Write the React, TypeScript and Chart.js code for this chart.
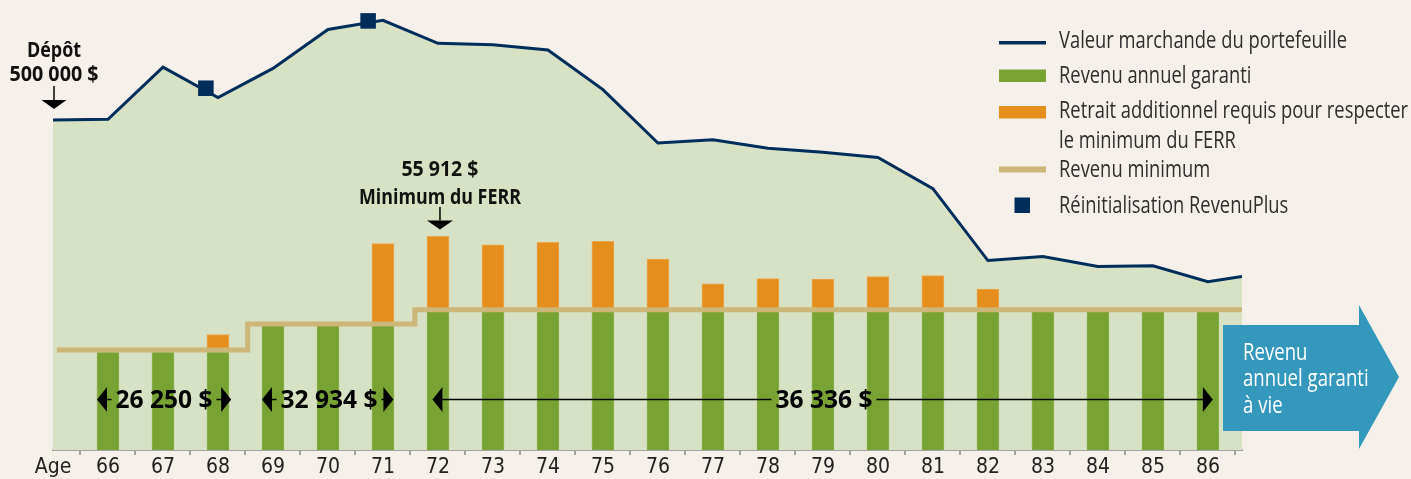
import React, { useEffect, useRef } from 'react';
import { Chart, registerables } from 'chart.js';

Chart.register(...registerables);

const TICK_FONT = '"DejaVu Sans Condensed", "Open Sans", sans-serif';
const TEXT_FONT = '"Open Sans", "Noto Sans", sans-serif';

const BG = '#F5F1EA';
const AREA = '#D7E1C3';
const NAVY = '#002D5A';
const GREEN = '#78A232';
const ORANGE = '#E68E1C';
const TAN = '#CCB678';
const BLUE = '#3398BB';
const AXIS = '#A3A3A3';

// x axis ticks (65 = deposit position, labelled "Age")
const tickAges = [65, 66, 67, 68, 69, 70, 71, 72, 73, 74, 75, 76, 77, 78, 79, 80, 81, 82, 83, 84, 85, 86];
const tickLabels = ['Age', '66', '67', '68', '69', '70', '71', '72', '73', '74', '75', '76', '77', '78', '79', '80', '81', '82', '83', '84', '85', '86'];

// Bars
const barAges = [66, 67, 68, 69, 70, 71, 72, 73, 74, 75, 76, 77, 78, 79, 80, 81, 82, 83, 84, 85, 86];
const guaranteedIncome = [26250, 26250, 26250, 32934, 32934, 32934, 36336, 36336, 36336, 36336, 36336, 36336, 36336, 36336, 36336, 36336, 36336, 36336, 36336, 36336, 36336];
const additionalWithdrawal = [null, null, 4400, null, null, 20300, 18700, 16600, 17200, 17500, 13050, 6950, 8200, 8100, 8700, 9000, 5600, null, null, null, null];

// Portfolio market value
const portfolioAges = [65, 66, 67, 68, 69, 70, 71, 72, 73, 74, 75, 76, 77, 78, 79, 80, 81, 82, 83, 84, 85, 86, 86.62];
const portfolioValues = [500000, 501000, 580000, 534000, 578000, 637000, 651000, 616000, 614000, 606000, 546000, 465000, 470000, 457000, 451000, 443000, 396000, 287000, 293000, 278000, 279000, 255000, 263000];

// Minimum income (step line)
const minIncomeAges = [65.07, 68.54, 68.54, 71.58, 71.58, 86.62];
const minIncomeValues = [26800, 26800, 33300, 33300, 36800, 36800];

// RevenuPlus resets
const resetAges = [67.78, 70.73];
const resetValues = [548000, 650000];

// Annotations
const depositLabel = ['Dépôt', '500 000 $'];
const depositAge = 65;
const ferrLabel = ['55 912 $', 'Minimum du FERR'];
const ferrAge = 72;
const incomeLabels = ['26 250 $', '32 934 $', '36 336 $'];
const incomeFromAges = [65.8, 68.8, 71.9];
const incomeToAges = [68.24, 71.19, 86.09];
const incomeLabelAges = [67, 70, 79];
const arrowText = ['Revenu', 'annuel garanti', 'à vie'];

const legendLabels = [
  ['Valeur marchande du portefeuille'],
  ['Revenu annuel garanti'],
  ['Retrait additionnel requis pour respecter', 'le minimum du FERR'],
  ['Revenu minimum'],
  ['Réinitialisation RevenuPlus'],
];

function fitScale(ctx: any, font: string, str: string, targetWidth: number) {
  ctx.font = font;
  return targetWidth / ctx.measureText(str).width;
}

function drawText(ctx: any, str: string, x: number, y: number, font: string, sx: number, align: string, color: string) {
  ctx.save();
  ctx.font = font;
  ctx.fillStyle = color;
  ctx.textAlign = align;
  ctx.textBaseline = 'alphabetic';
  ctx.translate(x, y);
  ctx.scale(sx, 1);
  ctx.fillText(str, 0, 0);
  ctx.restore();
}

function downArrow(ctx: any, x: number, y0: number, y1: number, tip: number, half: number) {
  ctx.strokeStyle = '#000';
  ctx.lineWidth = 1.5;
  ctx.beginPath();
  ctx.moveTo(x, y0);
  ctx.lineTo(x, y1);
  ctx.stroke();
  ctx.fillStyle = '#000';
  ctx.beginPath();
  ctx.moveTo(x - half, y1);
  ctx.lineTo(x + half, y1);
  ctx.lineTo(x, tip);
  ctx.closePath();
  ctx.fill();
}

const overlay = {
  id: 'overlay',
  beforeDraw(chart: any) {
    const ctx = chart.ctx;
    ctx.save();
    ctx.fillStyle = BG;
    ctx.fillRect(0, 0, chart.width, chart.height);
    ctx.restore();
  },
  afterDraw(chart: any) {
    const ctx = chart.ctx;
    const xs = chart.scales.x;
    const ys = chart.scales.y;
    ctx.save();

    // Deposit
    const dx = xs.getPixelForValue(depositAge) + 1;
    const depFont = `bold 21px ${TEXT_FONT}`;
    drawText(ctx, depositLabel[0], dx, 56.5, depFont, fitScale(ctx, depFont, depositLabel[0], 54), 'center', '#111');
    drawText(ctx, depositLabel[1], dx, 81, depFont, fitScale(ctx, depFont, depositLabel[1], 89), 'center', '#111');
    downArrow(ctx, dx, 86, 100, 109, 12.5);

    // FERR minimum
    const fi = barAges.indexOf(ferrAge);
    const fx = xs.getPixelForValue(ferrAge) + 2;
    const fTop = ys.getPixelForValue(guaranteedIncome[fi] + (additionalWithdrawal[fi] || 0));
    const ferrFont = `bold 21px ${TEXT_FONT}`;
    drawText(ctx, ferrLabel[0], fx, 176, ferrFont, fitScale(ctx, ferrFont, ferrLabel[0], 77), 'center', '#111');
    drawText(ctx, ferrLabel[1], fx, 203.5, ferrFont, fitScale(ctx, ferrFont, ferrLabel[1], 162), 'center', '#111');
    downArrow(ctx, fx, 207, fTop - 16, fTop - 7, 13);

    // Guaranteed income spans
    const ay = 399.5;
    const amtFont = `bold 25px ${TEXT_FONT}`;
    const amtScale = fitScale(ctx, amtFont, incomeLabels[0], 97);
    for (let i = 0; i < incomeLabels.length; i++) {
      const x1 = xs.getPixelForValue(incomeFromAges[i]);
      const x2 = xs.getPixelForValue(incomeToAges[i]);
      const xc = xs.getPixelForValue(incomeLabelAges[i]) + 1;
      ctx.font = amtFont;
      const w = ctx.measureText(incomeLabels[i]).width * amtScale;
      drawText(ctx, incomeLabels[i], xc, 408.3, amtFont, amtScale, 'center', '#000');
      ctx.strokeStyle = '#000';
      ctx.fillStyle = '#000';
      ctx.lineWidth = 1.5;
      const gap = 4;
      ctx.beginPath();
      if (xc - w / 2 - gap > x1 + 10) {
        ctx.moveTo(x1 + 9, ay);
        ctx.lineTo(xc - w / 2 - gap, ay);
      }
      if (x2 - 10 > xc + w / 2 + gap) {
        ctx.moveTo(xc + w / 2 + gap, ay);
        ctx.lineTo(x2 - 9, ay);
      }
      ctx.stroke();
      ctx.beginPath();
      ctx.moveTo(x1, ay);
      ctx.lineTo(x1 + 10, ay - 12.5);
      ctx.lineTo(x1 + 10, ay + 12.5);
      ctx.closePath();
      ctx.fill();
      ctx.beginPath();
      ctx.moveTo(x2, ay);
      ctx.lineTo(x2 - 10, ay - 12.5);
      ctx.lineTo(x2 - 10, ay + 12.5);
      ctx.closePath();
      ctx.fill();
    }

    // Blue arrow
    ctx.fillStyle = BLUE;
    ctx.beginPath();
    ctx.moveTo(1223, 325);
    ctx.lineTo(1359, 325);
    ctx.lineTo(1359, 305);
    ctx.lineTo(1399, 377);
    ctx.lineTo(1359, 449);
    ctx.lineTo(1359, 431);
    ctx.lineTo(1223, 431);
    ctx.closePath();
    ctx.fill();
    const arrFont = `24px ${TEXT_FONT}`;
    const arrScale = fitScale(ctx, arrFont, arrowText[1], 125.7);
    const arrowBase = [359.5, 386, 412.7];
    arrowText.forEach((t, i) => drawText(ctx, t, 1243, arrowBase[i], arrFont, arrScale, 'left', '#FFFFFF'));

    // Legend
    const lx0 = 999, lx1 = 1046, tx = 1059;
    ctx.fillStyle = NAVY;
    ctx.fillRect(lx0, 41, lx1 - lx0, 3.5);
    ctx.fillStyle = GREEN;
    ctx.fillRect(lx0, 69.5, lx1 - lx0, 12.5);
    ctx.fillStyle = ORANGE;
    ctx.fillRect(lx0, 106, lx1 - lx0, 12.5);
    ctx.fillStyle = TAN;
    ctx.fillRect(lx0, 166.5, lx1 - lx0, 6);
    ctx.fillStyle = NAVY;
    ctx.fillRect(1014.5, 197.5, 15.5, 15.5);
    const legFont = `23px ${TEXT_FONT}`;
    const legScale = fitScale(ctx, legFont, legendLabels[0][0], 288);
    const legendBase = [[48.3], [83.3], [118.3, 148.3], [177.3], [213.3]];
    legendLabels.forEach((lines, i) => {
      lines.forEach((t, j) => drawText(ctx, t, tx, legendBase[i][j], legFont, legScale, 'left', '#2E2E2E'));
    });

    ctx.restore();
  },
};

export default function App() {
  const ref = useRef<HTMLCanvasElement>(null);

  useEffect(() => {
    if (!ref.current) return;
    const chart = new Chart(ref.current, {
      type: 'bar',
      data: {
        datasets: [
          {
            type: 'line',
            label: 'Valeur marchande du portefeuille',
            data: portfolioAges.map((a, i) => ({ x: a, y: portfolioValues[i] })),
            yAxisID: 'y1',
            borderColor: NAVY,
            borderWidth: 3,
            backgroundColor: AREA,
            fill: 'start',
            pointRadius: 0,
            tension: 0,
            order: 4,
          } as any,
          {
            type: 'bar',
            label: 'Revenu annuel garanti',
            data: barAges.map((a, i) => ({ x: a, y: guaranteedIncome[i] })),
            yAxisID: 'y',
            stack: 'income',
            backgroundColor: GREEN,
            borderColor: '#8DB150',
            borderWidth: { left: 1, right: 1, top: 0, bottom: 0 },
            borderSkipped: 'bottom',
            barThickness: 22,
            clip: 0,
            order: 3,
          } as any,
          {
            type: 'bar',
            label: 'Retrait additionnel requis pour respecter le minimum du FERR',
            data: barAges.map((a, i) => ({ x: a, y: additionalWithdrawal[i] })),
            yAxisID: 'y',
            stack: 'income',
            backgroundColor: ORANGE,
            borderColor: '#EBA650',
            borderWidth: { left: 1, right: 1, top: 1, bottom: 0 },
            borderSkipped: 'bottom',
            barThickness: 22,
            clip: 0,
            order: 3,
          } as any,
          {
            type: 'line',
            label: 'Revenu minimum',
            data: minIncomeAges.map((a, i) => ({ x: a, y: minIncomeValues[i] })),
            yAxisID: 'y',
            stack: 'minimum',
            borderColor: TAN,
            borderWidth: 5,
            borderJoinStyle: 'miter',
            borderCapStyle: 'butt',
            pointRadius: 0,
            fill: false,
            tension: 0,
            order: 2,
          } as any,
          {
            type: 'line',
            label: 'Réinitialisation RevenuPlus',
            data: resetAges.map((a, i) => ({ x: a, y: resetValues[i] })),
            yAxisID: 'y1',
            showLine: false,
            pointStyle: 'rect',
            pointRadius: 11,
            pointBackgroundColor: NAVY,
            pointBorderWidth: 0,
            clip: false,
            order: 1,
          } as any,
        ],
      },
      options: {
        responsive: false,
        maintainAspectRatio: false,
        devicePixelRatio: 1,
        animation: false,
        events: [],
        layout: { padding: { left: 53, right: 169, top: 10, bottom: 0 } },
        plugins: {
          legend: { display: false },
          tooltip: { enabled: false },
        },
        scales: {
          x: {
            type: 'linear',
            min: 65,
            max: 86.62,
            offset: false,
            afterBuildTicks: (scale: any) => {
              scale.ticks = tickAges.map((v) => ({ value: v }));
            },
            afterFit: (scale: any) => {
              scale.height = 29;
            },
            grid: {
              offset: true,
              drawOnChartArea: false,
              drawTicks: true,
              tickLength: 5,
              color: AXIS,
              lineWidth: 2,
            },
            border: { display: true, color: AXIS, width: 2 },
            ticks: {
              autoSkip: false,
              maxRotation: 0,
              minRotation: 0,
              padding: 0,
              color: '#222',
              font: { family: TICK_FONT, size: 21 },
              callback: (value: any) => {
                const i = tickAges.indexOf(Number(value));
                return i >= 0 ? tickLabels[i] : '';
              },
            },
          } as any,
          y: { display: false, stacked: true, min: 2000, max: 111000 },
          y1: { display: false, min: 0, max: 665000 },
        },
      },
      plugins: [overlay],
    });
    return () => chart.destroy();
  }, []);

  return (
    <div style={{ position: 'fixed', left: 0, top: 0, width: 1411, height: 479, background: BG }}>
      <canvas ref={ref} width={1411} height={479} style={{ display: 'block', width: 1411, height: 479 }} />
    </div>
  );
}
